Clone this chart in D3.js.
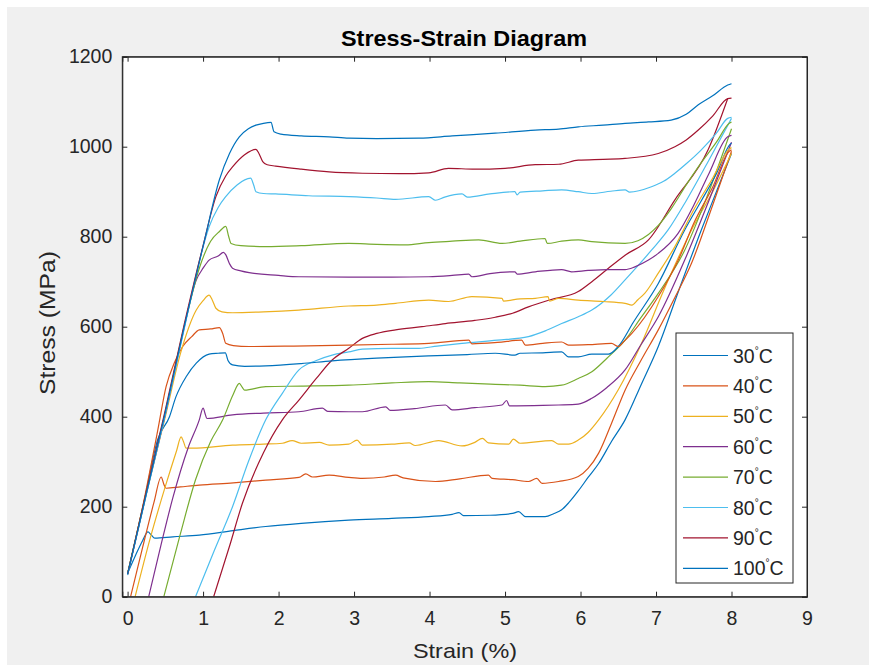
<!DOCTYPE html>
<html>
<head>
<meta charset="utf-8">
<script src="https://cdn.jsdelivr.net/npm/d3@7"></script>
<style>
  html, body { margin: 0; padding: 0; background: #ffffff; }
  svg { display: block; font-family: "Liberation Sans", Arial, Helvetica, sans-serif; }
</style>
</head>
<body>
<svg id="chart" width="876" height="665"></svg>
<script>
// ---------------- DATA ----------------
const legendLabels = ["30", "40", "50", "60", "70", "80", "90", "100"];
const xTicks = [0, 1, 2, 3, 4, 5, 6, 7, 8, 9];
const yTicks = [0, 200, 400, 600, 800, 1000, 1200];

// Upper family (legend curves): [strain %, stress MPa]
const up30 = [[0,50],[0.2,195],[0.4,350],[0.555,400],[0.64,444],[0.78,490],[0.91,519],[1.08,539],[1.2,541],[1.295,542],[1.33,525],[1.39,515],[1.55,512],[1.83,513],[2.3,518],[2.71,524],[3.3,530],[3.99,535],[4.5,538],[4.87,541],[5.13,537],[5.2,541],[5.5,542],[5.75,544],[5.84,533],[5.97,533],[6.15,539],[6.37,539],[6.5,556],[6.7,610],[7.03,696],[7.38,815],[7.6,880],[7.8,940],[7.98,1005],[8.0,1008]];
const up40 = [[0,50],[0.2,200],[0.4,370],[0.51,467],[0.62,520],[0.73,556],[0.85,578],[0.95,593],[1.1,595],[1.215,598],[1.26,585],[1.3,563],[1.4,558],[1.61,556],[2.2,557],[2.93,559],[3.5,561],[3.99,563],[4.52,570],[4.56,562],[4.9,565],[5.22,570],[5.27,559],[5.5,563],[5.75,566],[5.84,559],[6.1,560],[6.41,563],[6.5,556],[6.58,568],[6.68,585],[7.03,667],[7.3,750],[7.5,830],[7.75,910],[7.97,990],[8.0,993]];
const up50 = [[0,50],[0.25,230],[0.5,400],[0.7,540],[0.91,637],[1.0,658],[1.08,670],[1.12,660],[1.17,641],[1.25,633],[1.39,631],[1.8,633],[2.27,637],[2.93,646],[3.3,648],[3.55,652],[3.99,659],[4.25,656],[4.56,667],[4.96,663],[4.98,657],[5.2,662],[5.4,663],[5.57,667],[5.59,657],[5.71,663],[5.97,659],[6.3,656],[6.59,652],[6.68,648],[6.76,660],[6.85,674],[7.03,719],[7.25,778],[7.5,860],[7.75,930],[7.97,995],[8.0,998]];
const up60 = [[0,50],[0.25,230],[0.5,405],[0.7,560],[0.91,704],[1.0,730],[1.08,748],[1.2,757],[1.27,765],[1.3,760],[1.35,740],[1.39,730],[1.5,724],[1.61,720],[2.0,714],[2.27,711],[2.93,710],[3.5,710],[3.99,711],[4.3,714],[4.52,717],[4.56,711],[4.8,718],[5.13,722],[5.16,717],[5.4,722],[5.75,727],[5.88,722],[6.1,725],[6.37,727],[6.59,727],[6.72,733],[6.9,748],[7.03,763],[7.29,807],[7.5,870],[7.7,940],[7.95,1022],[8.0,1025]];
const up70 = [[0,52],[0.25,235],[0.5,410],[0.75,600],[0.95,730],[1.1,790],[1.22,812],[1.3,823],[1.34,800],[1.37,785],[1.5,780],[1.83,778],[2.3,780],[2.93,785],[3.3,783],[3.68,782],[3.99,787],[4.3,790],[4.65,793],[4.96,785],[5.2,790],[5.53,796],[5.56,785],[5.75,790],[5.97,793],[6.15,789],[6.59,785],[6.76,791],[6.9,805],[7.03,825],[7.2,862],[7.4,915],[7.56,955],[7.8,1010],[7.97,1052],[8.0,1055]];
const up80 = [[0,48],[0.25,228],[0.5,405],[0.75,595],[0.95,745],[1.08,822],[1.2,865],[1.3,889],[1.45,915],[1.63,930],[1.67,915],[1.7,900],[1.8,896],[1.96,895],[2.4,891],[2.93,889],[3.3,886],[3.55,883],[3.99,889],[4.08,881],[4.2,888],[4.43,895],[4.5,888],[4.8,895],[5.13,900],[5.16,893],[5.2,899],[5.5,902],[5.75,904],[5.97,900],[6.15,896],[6.4,901],[6.59,904],[6.65,899],[6.94,911],[7.1,923],[7.25,941],[7.4,962],[7.6,993],[7.8,1030],[7.95,1063],[8.0,1065]];
const up90 = [[0,50],[0.25,235],[0.5,415],[0.75,605],[1.0,780],[1.17,889],[1.3,935],[1.39,955],[1.55,982],[1.7,994],[1.74,985],[1.79,967],[1.85,960],[1.96,957],[2.3,950],[2.67,944],[3.11,941],[3.6,940],[3.99,942],[4.25,952],[4.6,950],[5.0,952],[5.4,960],[5.71,961],[5.97,970],[6.3,972],[6.59,974],[7.03,985],[7.25,1000],[7.4,1015],[7.56,1037],[7.75,1068],[7.95,1107],[8.0,1108]];
const up100 = [[0,50],[0.25,230],[0.5,410],[0.75,600],[1.02,793],[1.215,926],[1.35,985],[1.48,1022],[1.6,1040],[1.7,1048],[1.8,1052],[1.9,1054],[1.94,1033],[2.03,1028],[2.3,1024],[2.67,1022],[2.93,1019],[3.3,1018],[3.86,1019],[4.3,1024],[4.87,1030],[5.4,1037],[5.71,1039],[5.97,1044],[6.3,1048],[6.59,1052],[6.9,1055],[7.2,1059],[7.4,1072],[7.56,1093],[7.75,1113],[7.95,1137],[8.0,1140]];

// Lower family (second test of each temperature)
const lo30 = [[0,52],[0.1,90],[0.2,125],[0.27,144],[0.31,138],[0.36,130],[0.6,133],[0.95,137],[1.4,147],[1.83,156],[2.3,163],[2.93,170],[3.5,174],[3.99,178],[4.3,183],[4.39,187],[4.45,180],[4.8,181],[5.1,185],[5.18,189],[5.27,178],[5.53,178],[5.65,185],[5.75,193],[5.85,210],[5.97,235],[6.1,265],[6.24,296],[6.41,345],[6.59,393],[6.8,470],[7.03,556],[7.3,680],[7.6,815],[7.8,900],[8.0,985]];
const lo40 = [[0.04,0],[0.2,110],[0.35,210],[0.445,266],[0.48,250],[0.51,241],[0.7,244],[0.95,248],[1.4,253],[1.83,259],[2.27,265],[2.36,273],[2.45,266],[2.67,270],[2.93,265],[3.11,263],[3.4,266],[3.55,270],[3.65,264],[4.08,256],[4.4,262],[4.78,270],[4.83,263],[5.1,260],[5.31,256],[5.42,263],[5.49,252],[5.71,256],[5.97,267],[6.1,285],[6.24,319],[6.41,385],[6.59,459],[6.8,525],[7.03,593],[7.25,665],[7.47,741],[7.75,870],[8.0,990]];
const lo50 = [[0.1,0],[0.3,130],[0.5,245],[0.65,325],[0.709,355],[0.74,345],[0.775,330],[0.86,330],[1.39,337],[1.8,339],[2.05,341],[2.18,347],[2.3,341],[2.54,343],[2.67,337],[2.93,339],[3.04,348],[3.11,337],[3.5,339],[3.73,342],[3.81,336],[4.12,347],[4.43,335],[4.6,343],[4.7,352],[4.78,342],[5.05,339],[5.11,350],[5.2,341],[5.62,347],[5.71,339],[5.84,339],[5.97,348],[6.1,365],[6.24,393],[6.5,460],[6.8,560],[7.1,680],[7.47,815],[7.75,900],[8.0,985]];
const lo60 = [[0.28,0],[0.45,120],[0.6,220],[0.8,330],[0.95,393],[1.0,419],[1.03,405],[1.05,396],[1.39,404],[1.8,408],[2.27,411],[2.58,419],[2.65,412],[2.93,411],[3.11,411],[3.42,422],[3.48,414],[3.8,418],[4.21,426],[4.3,415],[4.6,420],[4.96,426],[5.02,436],[5.06,424],[5.5,425],[5.71,426],[5.97,428],[6.15,441],[6.35,465],[6.59,504],[6.8,560],[7.03,622],[7.38,748],[7.7,880],[8.0,1010]];
const lo70 = [[0.48,0],[0.7,140],[0.9,260],[1.1,345],[1.26,393],[1.4,450],[1.48,474],[1.52,465],[1.55,459],[1.83,467],[2.3,468],[2.93,470],[3.5,475],[3.99,478],[4.4,475],[4.87,472],[5.2,470],[5.53,467],[5.75,470],[5.97,485],[6.15,500],[6.35,530],[6.59,570],[6.8,620],[7.03,674],[7.38,770],[7.7,900],[8.0,1040]];
const lo80 = [[0.9,0],[1.15,103],[1.39,200],[1.6,300],[1.83,393],[2.05,452],[2.27,504],[2.5,525],[2.71,537],[2.93,544],[3.11,550],[3.5,552],[3.86,552],[4.1,557],[4.43,563],[4.9,570],[5.31,578],[5.55,592],[5.75,607],[5.97,622],[6.15,637],[6.4,670],[6.59,704],[6.94,770],[7.16,815],[7.4,880],[7.7,970],[8.0,1063]];
const lo90 = [[1.14,0],[1.35,112],[1.52,207],[1.8,320],[2.05,393],[2.27,437],[2.5,485],[2.71,526],[2.93,552],[3.11,574],[3.3,585],[3.55,593],[3.9,600],[4.21,607],[4.6,614],[4.87,621],[5.1,630],[5.31,644],[5.6,660],[5.97,678],[6.15,700],[6.37,730],[6.6,760],[6.9,793],[7.25,882],[7.69,993],[7.95,1107]];

const colors = ["#0072BD", "#D95319", "#EDB120", "#7E2F8E", "#77AC30", "#4DBEEE", "#A2142F", "#0072BD"];
const upperCurves = [up30, up40, up50, up60, up70, up80, up90, up100];
const lowerCurves = [lo30, lo40, lo50, lo60, lo70, lo80, lo90];

// ---------------- LAYOUT ----------------
const svg = d3.select("#chart");
const X0 = 122.3, X1 = 807, Y0 = 596.7, Y1 = 56.7;
const textColor = "#262626";
const FONT = "'Liberation Sans', Arial, sans-serif";

svg.append("rect").attr("x", 7).attr("y", 7).attr("width", 862).attr("height", 658).attr("fill", "#f0f0f0");
svg.append("rect").attr("x", X0).attr("y", Y1).attr("width", X1 - X0).attr("height", Y0 - Y1).attr("fill", "#ffffff");

const x = d3.scaleLinear().domain([-0.07, 9]).range([X0, X1]);
const y = d3.scaleLinear().domain([0, 1200]).range([Y0, Y1]);

svg.append("defs").append("clipPath").attr("id", "clip")
  .append("rect").attr("x", X0).attr("y", Y1).attr("width", X1 - X0).attr("height", Y0 - Y1);

const line = d3.line().x(d => x(d[0])).y(d => y(d[1])).curve(d3.curveMonotoneX);
const plot = svg.append("g").attr("clip-path", "url(#clip)");

lowerCurves.forEach((c, i) => {
  plot.append("path").datum(c).attr("d", line).attr("fill", "none")
    .attr("stroke", colors[i]).attr("stroke-width", 1.2).attr("stroke-linejoin", "round");
});
upperCurves.forEach((c, i) => {
  plot.append("path").datum(c).attr("d", line).attr("fill", "none")
    .attr("stroke", colors[i]).attr("stroke-width", 1.2).attr("stroke-linejoin", "round");
});

// Axes (MATLAB-style box with inward ticks)
const fs = 19.5;
const axB = svg.append("g").attr("transform", `translate(0,${Y0})`)
  .call(d3.axisBottom(x).tickValues(xTicks).tickSize(-5).tickPadding(14).tickFormat(d3.format("d")));
const axT = svg.append("g").attr("transform", `translate(0,${Y1})`)
  .call(d3.axisTop(x).tickValues(xTicks).tickSize(-5).tickFormat(""));
const axL = svg.append("g").attr("transform", `translate(${X0},0)`)
  .call(d3.axisLeft(y).tickValues(yTicks).tickSize(-5).tickPadding(10).tickFormat(d3.format("d")));
const axR = svg.append("g").attr("transform", `translate(${X1},0)`)
  .call(d3.axisRight(y).tickValues(yTicks).tickSize(-5).tickFormat(""));
[axB, axT, axL, axR].forEach(a => {
  a.select(".domain").attr("stroke", textColor).attr("stroke-width", 1);
  a.selectAll(".tick line").attr("stroke", textColor).attr("stroke-width", 1);
  a.selectAll("text").attr("fill", textColor).attr("font-size", fs).attr("font-family", FONT);
});
svg.append("rect").attr("x", X0).attr("y", Y1).attr("width", X1 - X0).attr("height", Y0 - Y1)
  .attr("fill", "none").attr("stroke", textColor).attr("stroke-width", 1);

// Title and labels
svg.append("text").attr("x", 464).attr("y", 46).attr("text-anchor", "middle")
  .attr("font-size", 21.5).attr("font-weight", "bold").attr("fill", "#000")
  .attr("textLength", 246).attr("lengthAdjust", "spacingAndGlyphs").text("Stress-Strain Diagram");
svg.append("text").attr("x", 465).attr("y", 658).attr("text-anchor", "middle")
  .attr("font-size", 21).attr("fill", textColor)
  .attr("textLength", 104).attr("lengthAdjust", "spacingAndGlyphs").text("Strain (%)");
svg.append("text").attr("transform", `translate(55,323) rotate(-90)`).attr("text-anchor", "middle")
  .attr("font-size", 22).attr("fill", textColor)
  .attr("textLength", 144).attr("lengthAdjust", "spacingAndGlyphs").text("Stress (MPa)");

// Legend
const lg = svg.append("g");
lg.append("rect").attr("x", 676).attr("y", 333).attr("width", 117).attr("height", 250)
  .attr("fill", "#ffffff").attr("stroke", textColor).attr("stroke-width", 1);
legendLabels.forEach((t, i) => {
  const cy = 355.5 + i * 30.4;
  lg.append("line").attr("x1", 683).attr("x2", 728).attr("y1", cy).attr("y2", cy)
    .attr("stroke", colors[i]).attr("stroke-width", 1.2);
  const tx = lg.append("text").attr("x", 733).attr("y", cy + 7).attr("font-size", fs).attr("fill", textColor);
  tx.append("tspan").text(t);
  tx.append("tspan").attr("font-size", 10).attr("dy", -9).text("°");
  tx.append("tspan").attr("dy", 9).text("C");
});
</script>
</body>
</html>
